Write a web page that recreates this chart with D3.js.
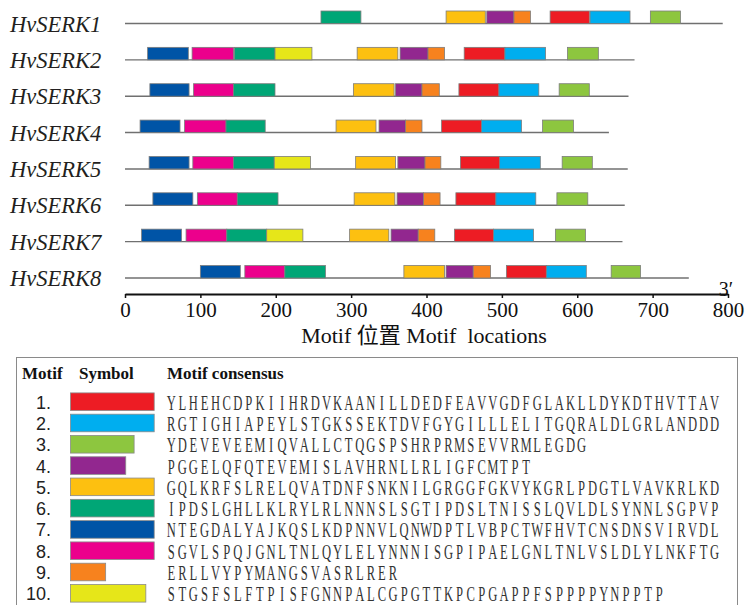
<!DOCTYPE html>
<html>
<head>
<meta charset="utf-8">
<script src="https://cdn.jsdelivr.net/npm/d3@7"></script>
<style>
  body { margin: 0; background: #fff; }
</style>
</head>
<body>
<div id="canvas-svg"></div>
<script>

// genes and their lengths
var genes = ["HvSERK1","HvSERK2","HvSERK3","HvSERK4","HvSERK5","HvSERK6","HvSERK7","HvSERK8"];
var geneLength = [793, 676, 668, 642, 667, 663, 660, 748];

// motif blocks per gene: [motif, start, end]
var serk1 = [[6,260,313],[5,426,478],[4,480,516],[9,516,538],[1,564,616],[2,617,670],[3,697,737]];
var serk2 = [[7,30,84],[8,89,144],[6,145,199],[10,199,248],[5,308,362],[4,365,402],[9,402,424],[1,450,504],[2,504,558],[3,587,628]];
var serk3 = [[7,33,85],[8,91,144],[6,144,199],[5,303,357],[4,359,394],[9,394,417],[1,443,496],[2,496,549],[3,576,616]];
var serk4 = [[7,20,73],[8,79,134],[6,134,186],[5,280,333],[4,337,372],[9,372,394],[1,420,473],[2,473,526],[3,554,595]];
var serk5 = [[7,32,85],[8,90,144],[6,144,198],[10,198,246],[5,306,359],[4,362,398],[9,398,419],[1,445,497],[2,497,551],[3,580,620]];
var serk6 = [[7,37,90],[8,96,149],[6,149,203],[5,304,358],[4,361,396],[9,396,418],[1,439,492],[2,492,545],[3,573,614]];
var serk7 = [[7,22,75],[8,81,135],[6,135,188],[10,188,236],[5,298,350],[4,353,389],[9,389,411],[1,437,489],[2,489,542],[3,571,611]];
var serk8 = [[7,100,153],[8,159,212],[6,212,266],[5,370,424],[4,426,462],[9,462,485],[1,506,559],[2,559,612],[3,645,684]];
var blocks = [serk1, serk2, serk3, serk4, serk5, serk6, serk7, serk8];

var ticks = [0,100,200,300,400,500,600,700,800];

var motifs = [1,2,3,4,5,6,7,8,9,10];
var motifColors = ["#ed1c24","#00aeef","#8dc63f","#92278f","#fdc010","#00a676","#0054a6","#ec008c","#f7821e","#e6e619"];
var consensus = [
  "YLHEHCDPKIIHRDVKAANILLDEDFEAVVGDFGLAKLLDYKDTHVTTAV",
  "RGTIGHIAPEYLSTGKSSEKTDVFGYGILLLELITGQRALDLGRLANDDD",
  "YDEVEVEEMIQVALLCTQGSPSHRPRMSEVVRMLEGDG",
  "PGGELQFQTEVEMISLAVHRNLLRLIGFCMTPT",
  "GQLKRFSLRELQVATDNFSNKNILGRGGFGKVYKGRLPDGTLVAVKRLKD",
  "IPDSLGHLLKLRYLRLNNNSLSGTIPDSLTNISSLQVLDLSYNNLSGPVP",
  "NTEGDALYAJKQSLKDPNNVLQNWDPTLVBPCTWFHVTCNSDNSVIRVDL",
  "SGVLSPQJGNLTNLQYLELYNNNISGPIPAELGNLTNLVSLDLYLNKFTG",
  "ERLLVYPYMANGSVASRLRER",
  "STGSFSLFTPISFGNNPALCGPGTTKPCPGAPPFSPPPPYNPPTP"
];

var width = 751, height = 605;
var serif = "'Liberation Serif', 'Times New Roman', serif";

var svg = d3.select("#canvas-svg").append("svg")
    .attr("width", width)
    .attr("height", height);

var x = d3.scaleLinear().domain([0, 800]).range([125, 728]);
var y = d3.scalePoint().domain(genes).range([23.5, 278]);
var color = d3.scaleOrdinal().domain(motifs).range(motifColors);
var boxH = 12.5;

// gene rows
var row = svg.selectAll("g.gene")
  .data(genes)
  .enter().append("g")
  .attr("class", "gene")
  .attr("transform", function(d){ return "translate(0," + y(d) + ")"; });

row.append("text")
  .attr("x", 10)
  .attr("y", 8)
  .style("font-family", serif)
  .style("font-style", "italic")
  .style("font-size", "22.5px")
  .style("fill", "#231f20")
  .text(function(d){ return d; });

row.append("line")
  .attr("x1", x(0))
  .attr("x2", function(d, i){ return x(geneLength[i]); })
  .style("stroke", "#707070")
  .style("stroke-width", 1.4);

row.selectAll("rect")
  .data(function(d, i){ return blocks[i]; })
  .enter().append("rect")
  .attr("x", function(d){ return x(d[1]); })
  .attr("y", -boxH)
  .attr("width", function(d){ return x(d[2]) - x(d[1]); })
  .attr("height", boxH)
  .style("fill", function(d){ return color(d[0]); })
  .style("stroke", "#7d7d7d")
  .style("stroke-width", 0.8);

// axis
var axis = svg.append("g")
  .attr("transform", "translate(0,294)")
  .call(d3.axisBottom(x).tickValues(ticks).tickSize(4).tickPadding(4).tickSizeOuter(0));

axis.select(".domain").style("stroke", "#111").style("stroke-width", 2);
axis.selectAll(".tick line").style("stroke", "#111").style("stroke-width", 1.5);
axis.selectAll(".tick text")
  .style("font-family", serif)
  .style("font-size", "21px")
  .style("fill", "#111");

svg.append("text")
  .attr("x", x(800) - 2)
  .attr("y", 296)
  .attr("text-anchor", "middle")
  .style("font-family", serif)
  .style("font-size", "20px")
  .style("fill", "#111")
  .text("3\u2032");

svg.append("text")
  .attr("x", 424)
  .attr("y", 343)
  .attr("text-anchor", "middle")
  .style("font-family", "'Liberation Serif', 'Noto Sans CJK SC', serif")
  .style("font-size", "22px")
  .style("fill", "#111")
  .style("white-space", "pre")
  .text("Motif 位置 Motif  locations");

// legend
var legend = svg.append("g");

legend.append("rect")
  .attr("x", 16.5)
  .attr("y", 357.5)
  .attr("width", 721)
  .attr("height", 260)
  .style("fill", "none")
  .style("stroke", "#8a8a8a")
  .style("stroke-width", 1);

var heads = [["Motif", 22], ["Symbol", 79], ["Motif consensus", 167]];
legend.selectAll("text.head")
  .data(heads)
  .enter().append("text")
  .attr("class", "head")
  .attr("x", function(d){ return d[1]; })
  .attr("y", 379)
  .style("font-family", serif)
  .style("font-weight", "bold")
  .style("font-size", "17px")
  .style("fill", "#111")
  .text(function(d){ return d[0]; });

var ly = d3.scaleLinear().domain([1, 10]).range([401.7, 593.3]);
var sw = d3.scaleLinear().domain([0, 50]).range([0, 83.7]);
var pitch = 11.09, sx = 0.6;

var item = legend.selectAll("g.item")
  .data(motifs)
  .enter().append("g")
  .attr("class", "item")
  .attr("transform", function(d){ return "translate(0," + ly(d) + ")"; });

item.append("text")
  .attr("x", 51)
  .attr("y", 7)
  .attr("text-anchor", "end")
  .style("font-family", "'Liberation Sans', Arial, sans-serif")
  .style("font-size", "18px")
  .style("fill", "#222")
  .text(function(d){ return d + "."; });

item.append("rect")
  .attr("x", 70.5)
  .attr("y", -8.8)
  .attr("width", function(d, i){ return sw(consensus[i].length); })
  .attr("height", 17.6)
  .style("fill", function(d){ return color(d); })
  .style("stroke", "#8a8a8a")
  .style("stroke-width", 0.8);

// monospace-like layout: one cell per residue, glyphs narrowed
item.append("text")
  .attr("transform", "translate(165.7,8) scale(" + sx + ",1)")
  .attr("x", function(d, i){
    return consensus[i].split("").map(function(c, j){ return ((j + 0.5) * pitch / sx).toFixed(2); }).join(" ");
  })
  .attr("text-anchor", "middle")
  .style("font-family", serif)
  .style("font-size", "21px")
  .style("fill", "#333")
  .text(function(d, i){ return consensus[i]; });

</script>
</body>
</html>
